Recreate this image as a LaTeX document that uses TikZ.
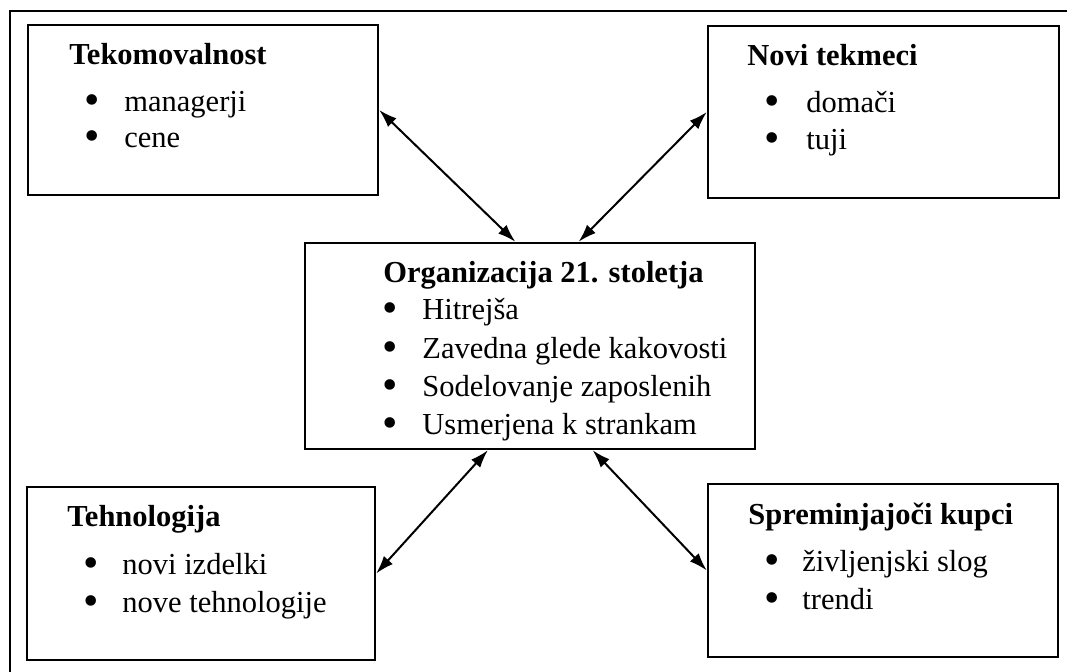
\documentclass[tikz,border=0pt]{standalone}
\usepackage{fontspec}
\setmainfont{Liberation Serif}
\usepackage{tikz}
\usetikzlibrary{arrows.meta}
\newcommand{\txtsize}{\fontsize{15.25}{19}\selectfont}
\tikzset{box/.style = {draw, line width = 1.2pt, rectangle, inner sep = 0}}
\tikzset{head/.style = {anchor = base west, inner sep = 0, font = \txtsize\bfseries}}
\tikzset{entry/.style = {anchor = base west, inner sep = 0, font = \txtsize}}
\tikzset{dot/.style = {anchor = center, inner sep = 0, font = \fontsize{22}{22}\selectfont}}
\tikzset{link/.style = {line width = 1pt, {Latex[length = 9pt, width = 6pt]}-{Latex[length = 9pt, width = 6pt]}}}

\begin{document}
\begin{tikzpicture}[x = 0.5pt, y = -0.5pt]
      \useasboundingbox (0, 0) rectangle (1067, 672);
      \draw [line width = 1pt] (1067, 11) -- (10, 11) -- (10, 672);

      \node [box, minimum width = 175pt, minimum height = 85pt] (tl) at (203, 110) {};
      \node [box, minimum width = 175.5pt, minimum height = 86pt] (tr) at (883.5, 112) {};
      \node [box, minimum width = 225pt, minimum height = 103pt] (org) at (530, 346) {};
      \node [box, minimum width = 174pt, minimum height = 86.5pt] (bl) at (201, 573.5) {};
      \node [box, minimum width = 175pt, minimum height = 86.5pt] (br) at (883, 570.5) {};

      % top left
      \node [head] (tl-head) at (69, 65) {Tekomovalnost};
      \foreach \txt [count = \i] in {managerji, cene} {
        \node [dot] (tl-dot-\i) at (92, 69 + 36*\i) {\textbullet};
        \node [entry] (tl-\i) at (124, 76 + 36*\i) {\txt};
      }

      % top right
      \node [head] (tr-head) at (747, 66) {Novi tekmeci};
      \foreach \txt [count = \i] in {domači, tuji} {
        \node [dot] (tr-dot-\i) at (772, 69 + 37*\i) {\textbullet};
        \node [entry] (tr-\i) at (806, 76 + 37*\i) {\txt};
      }

      % middle
      \node [head] (org-head) at (383, 283) {Organizacija 21. stoletja};
      \foreach \txt [count = \i] in {Hitrejša, Zavedna glede kakovosti, Sodelovanje zaposlenih, Usmerjena k strankam} {
        \node [dot] (org-dot-\i) at (390, 274.7 + 38.3*\i) {\textbullet};
        \node [entry] (org-\i) at (422, 281.7 + 38.3*\i) {\txt};
      }

      % bottom left
      \node [head] (bl-head) at (67, 527) {Tehnologija};
      \foreach \txt [count = \i] in {novi izdelki, nove tehnologije} {
        \node [dot] (bl-dot-\i) at (91, 530 + 38*\i) {\textbullet};
        \node [entry] (bl-\i) at (122, 537 + 38*\i) {\txt};
      }

      % bottom right
      \node [head] (br-head) at (748, 525) {Spreminjajoči kupci};
      \foreach \txt [count = \i] in {življenjski slog, trendi} {
        \node [dot] (br-dot-\i) at (772, 527 + 38*\i) {\textbullet};
        \node [entry] (br-\i) at (802, 534 + 38*\i) {\txt};
      }

      \draw [link] (tl.east) -- (org.98);
      \draw [link] (org.65) -- (tr.west);
      \draw [link] (org.248) -- (bl.east);
      \draw [link] (org.301) -- (br.west);
    \end{tikzpicture}
\end{document}
